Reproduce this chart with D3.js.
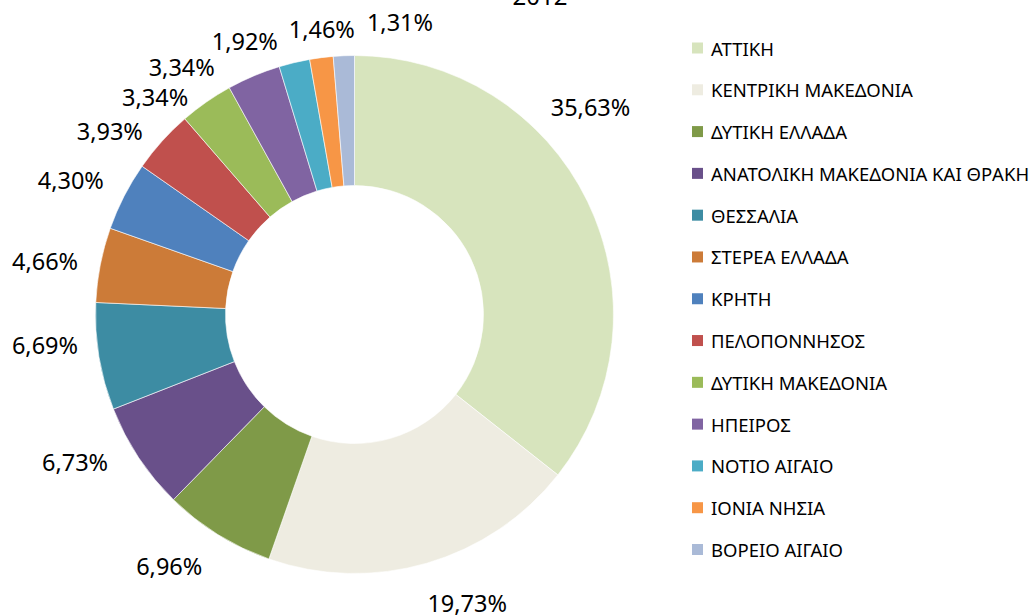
<!DOCTYPE html>
<html>
<head>
<meta charset="utf-8">
<script src="https://cdn.jsdelivr.net/npm/d3@7/dist/d3.min.js"></script>
<style>
  html, body { margin: 0; padding: 0; background: #fff; }
  svg { display: block; }
  text { font-family: "Noto Sans", "DejaVu Sans", sans-serif; fill: #000; }
</style>
</head>
<body>
<svg id="chart" width="1033" height="615"></svg>
<script>
// ---- data ----
const title = "2012";
const regions = [
  "ΑΤΤΙΚΗ", "ΚΕΝΤΡΙΚΗ ΜΑΚΕΔΟΝΙΑ", "ΔΥΤΙΚΗ ΕΛΛΑΔΑ", "ΑΝΑΤΟΛΙΚΗ ΜΑΚΕΔΟΝΙΑ ΚΑΙ ΘΡΑΚΗ",
  "ΘΕΣΣΑΛΙΑ", "ΣΤΕΡΕΑ ΕΛΛΑΔΑ", "ΚΡΗΤΗ", "ΠΕΛΟΠΟΝΝΗΣΟΣ", "ΔΥΤΙΚΗ ΜΑΚΕΔΟΝΙΑ",
  "ΗΠΕΙΡΟΣ", "ΝΟΤΙΟ ΑΙΓΑΙΟ", "ΙΟΝΙΑ ΝΗΣΙΑ", "ΒΟΡΕΙΟ ΑΙΓΑΙΟ"
];
const shares = [35.63, 19.73, 6.96, 6.73, 6.69, 4.66, 4.30, 3.93, 3.34, 3.34, 1.92, 1.46, 1.31];
const colors = [
  "#d7e4bd", "#eeece1", "#7f9a48", "#69508a", "#3d8ca3", "#cc7b38", "#4f81bd",
  "#c0504d", "#9bbb59", "#8064a2", "#4bacc6", "#f79646", "#aabad7"
];

// ---- layout (best-fit label placement, relative to slice mid-angle) ----
const labelOffsetDeg = [-15.4, -5.1, 4.6, 5.7, 3.8, -1.3, -1.8, -5.1, -7.6, -12.0, -8.4, 0.8, 11.2];
const labelRadius    = [314, 310, 312, 316, 311, 314, 314, 306, 295, 302, 295, 287, 296];

const cx = 354.5, cy = 314.5, R = 259, r = 129;
const svg = d3.select("#chart");

const data = regions.map((name, i) => ({ name, value: shares[i], color: colors[i], i }));

const pie = d3.pie().sort(null).value(d => d.value).startAngle(0).endAngle(2 * Math.PI);
const arc = d3.arc().innerRadius(r).outerRadius(R);
const arcs = pie(data);

const g = svg.append("g").attr("transform", `translate(${cx},${cy})`);
g.selectAll("path.slice").data(arcs).enter().append("path")
  .attr("class", "slice")
  .attr("d", arc)
  .attr("fill", d => d.data.color)
  .attr("stroke", "#ffffff")
  .attr("stroke-width", 0.6);

const fmt = v => v.toFixed(2).replace(".", ",") + "%";
g.selectAll("text.lbl").data(arcs).enter().append("text")
  .attr("class", "lbl")
  .attr("text-anchor", "middle")
  .attr("dominant-baseline", "central")
  .attr("font-size", "23.5px")
  .attr("x", d => {
    const a = (d.startAngle + d.endAngle) / 2 + labelOffsetDeg[d.data.i] * Math.PI / 180;
    return Math.sin(a) * labelRadius[d.data.i];
  })
  .attr("y", d => {
    const a = (d.startAngle + d.endAngle) / 2 + labelOffsetDeg[d.data.i] * Math.PI / 180;
    return -Math.cos(a) * labelRadius[d.data.i];
  })
  .text(d => fmt(d.data.value));

// title
svg.append("text")
  .attr("x", 540).attr("y", 5)
  .attr("text-anchor", "middle")
  .attr("font-size", "24px")
  .text(title);

// legend
const legY = d3.scaleLinear().domain([0, regions.length - 1]).range([48, 549.5]);
const leg = svg.append("g");
const items = leg.selectAll("g.item").data(data).enter().append("g")
  .attr("class", "item")
  .attr("transform", d => `translate(0,${legY(d.i)})`);
items.append("rect")
  .attr("x", 692).attr("y", -5.5).attr("width", 11).attr("height", 11)
  .attr("fill", d => d.color);
items.append("text")
  .attr("x", 711).attr("y", 0)
  .attr("dominant-baseline", "central")
  .attr("font-size", "18.5px")
  .text(d => d.name);
</script>
</body>
</html>
